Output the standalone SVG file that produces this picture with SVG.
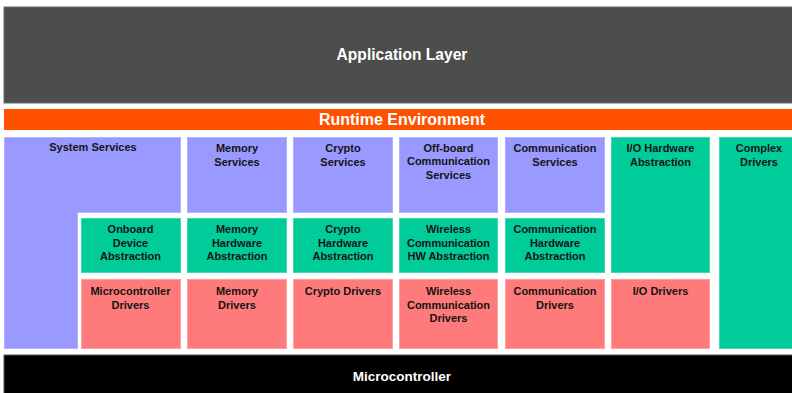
<svg xmlns="http://www.w3.org/2000/svg" width="792" height="393" viewBox="0 0 792 393">
<style>
.svc{fill:#9999ff;stroke:#b0b0ff;stroke-width:1}
.hw{fill:#00cc99;stroke:#40d9b0;stroke-width:1}
.drv{fill:#ff7a7a;stroke:#ffa0a0;stroke-width:1}
.t{font-family:"Liberation Sans",Arial,sans-serif;font-weight:bold;font-size:11px;fill:#141414;text-anchor:middle}
.big{font-family:"Liberation Sans",Arial,sans-serif;font-weight:bold;fill:#ffffff;text-anchor:middle}
</style>
<rect width="792" height="393" fill="#ffffff"/>
<g id="application-layer">
<rect x="4" y="7" width="790" height="96" fill="#4d4d4d" stroke="#6a6a6a" stroke-width="1"/>
<text class="big" x="402" y="60" font-size="15.6">Application Layer</text>
</g>
<g id="runtime-environment">
<rect x="4" y="109" width="790" height="21" fill="#ff5000"/>
<text class="big" x="402" y="125" font-size="16">Runtime Environment</text>
</g>
<g id="system-services">
<polygon class="svc" points="4.5,137.5 180.5,137.5 180.5,212.5 77.5,212.5 77.5,348.5 4.5,348.5"/>
<text class="t" x="93" y="151">System Services</text>
</g>
<g id="memory-services">
<rect class="svc" x="187.5" y="137.5" width="99" height="75"/>
<text class="t" x="237" y="152">Memory</text>
<text class="t" x="237" y="165.5">Services</text>
</g>
<g id="crypto-services">
<rect class="svc" x="293.5" y="137.5" width="99" height="75"/>
<text class="t" x="343" y="152">Crypto</text>
<text class="t" x="343" y="165.5">Services</text>
</g>
<g id="offboard-communication-services">
<rect class="svc" x="399.5" y="137.5" width="98" height="75"/>
<text class="t" x="448.5" y="151.5">Off-board</text>
<text class="t" x="448.5" y="165">Communication</text>
<text class="t" x="448.5" y="178.5">Services</text>
</g>
<g id="communication-services">
<rect class="svc" x="505.5" y="137.5" width="99" height="75"/>
<text class="t" x="555" y="152">Communication</text>
<text class="t" x="555" y="165.5">Services</text>
</g>
<g id="io-hardware-abstraction">
<rect class="hw" x="611.5" y="137.5" width="98" height="135"/>
<text class="t" x="660.5" y="152">I/O Hardware</text>
<text class="t" x="660.5" y="165.5">Abstraction</text>
</g>
<g id="complex-drivers">
<rect class="hw" x="719.5" y="137.5" width="80" height="211"/>
<text class="t" x="759" y="152">Complex</text>
<text class="t" x="759" y="165.5">Drivers</text>
</g>
<g id="onboard-device-abstraction">
<rect class="hw" x="81.5" y="218.5" width="99" height="54"/>
<text class="t" x="130.5" y="233">Onboard</text>
<text class="t" x="130.5" y="246.5">Device</text>
<text class="t" x="130.5" y="260">Abstraction</text>
</g>
<g id="memory-hardware-abstraction">
<rect class="hw" x="187.5" y="218.5" width="99" height="54"/>
<text class="t" x="237" y="233">Memory</text>
<text class="t" x="237" y="246.5">Hardware</text>
<text class="t" x="237" y="260">Abstraction</text>
</g>
<g id="crypto-hardware-abstraction">
<rect class="hw" x="293.5" y="218.5" width="99" height="54"/>
<text class="t" x="343" y="233">Crypto</text>
<text class="t" x="343" y="246.5">Hardware</text>
<text class="t" x="343" y="260">Abstraction</text>
</g>
<g id="wireless-communication-hw-abstraction">
<rect class="hw" x="399.5" y="218.5" width="98" height="54"/>
<text class="t" x="448.5" y="233">Wireless</text>
<text class="t" x="448.5" y="246.5">Communication</text>
<text class="t" x="448.5" y="260">HW Abstraction</text>
</g>
<g id="communication-hardware-abstraction">
<rect class="hw" x="505.5" y="218.5" width="99" height="54"/>
<text class="t" x="555" y="233">Communication</text>
<text class="t" x="555" y="246.5">Hardware</text>
<text class="t" x="555" y="260">Abstraction</text>
</g>
<g id="microcontroller-drivers">
<rect class="drv" x="81.5" y="279.5" width="99" height="69"/>
<text class="t" x="130.5" y="295">Microcontroller</text>
<text class="t" x="130.5" y="308.5">Drivers</text>
</g>
<g id="memory-drivers">
<rect class="drv" x="187.5" y="279.5" width="99" height="69"/>
<text class="t" x="237" y="295">Memory</text>
<text class="t" x="237" y="308.5">Drivers</text>
</g>
<g id="crypto-drivers">
<rect class="drv" x="293.5" y="279.5" width="99" height="69"/>
<text class="t" x="343" y="295">Crypto Drivers</text>
</g>
<g id="wireless-communication-drivers">
<rect class="drv" x="399.5" y="279.5" width="98" height="69"/>
<text class="t" x="448.5" y="295">Wireless</text>
<text class="t" x="448.5" y="308.5">Communication</text>
<text class="t" x="448.5" y="322">Drivers</text>
</g>
<g id="communication-drivers">
<rect class="drv" x="505.5" y="279.5" width="99" height="69"/>
<text class="t" x="555" y="295">Communication</text>
<text class="t" x="555" y="308.5">Drivers</text>
</g>
<g id="io-drivers">
<rect class="drv" x="611.5" y="279.5" width="98" height="69"/>
<text class="t" x="660.5" y="295">I/O Drivers</text>
</g>
<g id="microcontroller">
<rect x="4" y="355" width="790" height="40" fill="#000000" stroke="#555555" stroke-width="1"/>
<text class="big" x="402" y="381" font-size="13.5">Microcontroller</text>
</g>
<g id="connectors"/>
</svg>
